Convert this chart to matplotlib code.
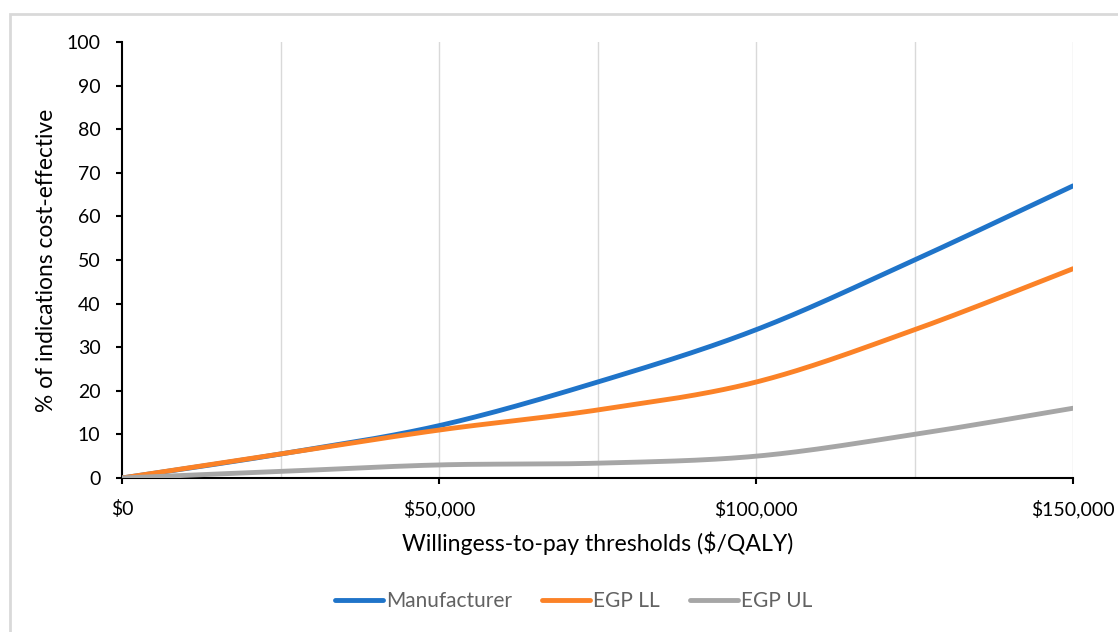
"""Cost-effectiveness acceptability curves by willingness-to-pay threshold."""

import matplotlib

matplotlib.use("Agg")
import matplotlib.pyplot as plt
import numpy as np
from matplotlib.patches import Rectangle


WTP_THRESHOLDS = [0, 25000, 50000, 75000, 100000, 125000, 150000]
MANUFACTURER = [0, 5.5, 12, 22, 34, 50, 67]
EGP_LL = [0, 5.5, 11, 15.6, 22, 34, 48]
EGP_UL = [0, 1.5, 3, 3.4, 5, 10, 16]

SERIES_NAMES = ["Manufacturer", "EGP LL", "EGP UL"]
SERIES_COLORS = ["#1f74c9", "#fb8227", "#a6a6a6"]

X_TICKS = [0, 50000, 100000, 150000]
X_TICK_LABELS = ["$0", "$50,000", "$100,000", "$150,000"]
X_GRID = [25000, 50000, 75000, 100000, 125000, 150000]
Y_TICKS = list(range(0, 101, 10))

W, H = 1118, 632


def _smooth(xs, ys, steps=40):
    """Catmull-Rom style bezier smoothing, similar to spreadsheet smoothed lines."""
    pts = np.column_stack([xs, ys]).astype(float)
    n = len(pts)
    out = [pts[0]]
    t = np.linspace(0, 1, steps)[1:, None]
    for i in range(n - 1):
        p0 = pts[i - 1] if i > 0 else pts[i]
        p1 = pts[i]
        p2 = pts[i + 1]
        p3 = pts[i + 2] if i + 2 < n else pts[i + 1]
        c1 = p1 + (p2 - p0) / 6
        c2 = p2 - (p3 - p1) / 6
        seg = ((1 - t) ** 3) * p1 + 3 * ((1 - t) ** 2) * t * c1 \
            + 3 * (1 - t) * t ** 2 * c2 + t ** 3 * p2
        out.extend(seg)
    out = np.array(out)
    return out[:, 0], out[:, 1]


def main() -> None:
    plt.rcParams["font.family"] = ["Lato", "DejaVu Sans"]

    fig = plt.figure(figsize=(W / 100, H / 100), dpi=100)
    left, right, top, bottom = 122, 1073, 42, 478
    ax = fig.add_axes([left / W, 1 - bottom / H, (right - left) / W, (bottom - top) / H])

    # chart frame
    fig.patches.append(Rectangle((10 / W, -0.05), 1.1, 1 - 14 / H + 0.05,
                                 transform=fig.transFigure, fill=False,
                                 edgecolor="#d9d9d9", linewidth=2))

    for xg in X_GRID:
        ax.axvline(xg, color="#d9d9d9", linewidth=1, zorder=0)

    for values, name, color in zip([MANUFACTURER, EGP_LL, EGP_UL], SERIES_NAMES, SERIES_COLORS):
        sx, sy = _smooth(WTP_THRESHOLDS, values)
        ax.plot(sx, sy, color=color, linewidth=3.5, label=name,
                solid_capstyle="round", zorder=3)

    ax.set_xlim(0, 150000)
    ax.set_ylim(0, 100)
    ax.set_xticks(X_TICKS)
    ax.set_xticklabels(X_TICK_LABELS)
    ax.set_yticks(Y_TICKS)
    ax.tick_params(axis="both", labelsize=14, color="black", width=1.5,
                   length=4.5, direction="out", pad=11)

    for side in ["top", "right"]:
        ax.spines[side].set_visible(False)
    for side in ["left", "bottom"]:
        ax.spines[side].set_linewidth(1.5)

    ax.set_xlabel("Willingess-to-pay thresholds ($/QALY)", fontsize=16.6)
    ax.xaxis.label.set_verticalalignment("baseline")
    ax.xaxis.set_label_coords(0.5, (bottom - 551) / (bottom - top))

    ax.set_ylabel("% of indications cost-effective", fontsize=16.4,
                  rotation_mode="anchor")
    ax.yaxis.label.set_verticalalignment("baseline")
    ax.yaxis.label.set_horizontalalignment("center")
    ax.yaxis.set_label_coords((53 - left) / (right - left), 0.5)

    leg = fig.legend(loc="center", bbox_to_anchor=(574 / W, 1 - 601 / H), ncol=3,
                     frameon=False, fontsize=15, handlelength=2.3,
                     handletextpad=0.15, columnspacing=1.45)
    for text in leg.get_texts():
        text.set_color("#626262")

    fig.savefig("out.png", dpi=100)
    plt.close(fig)


if __name__ == "__main__":
    main()
